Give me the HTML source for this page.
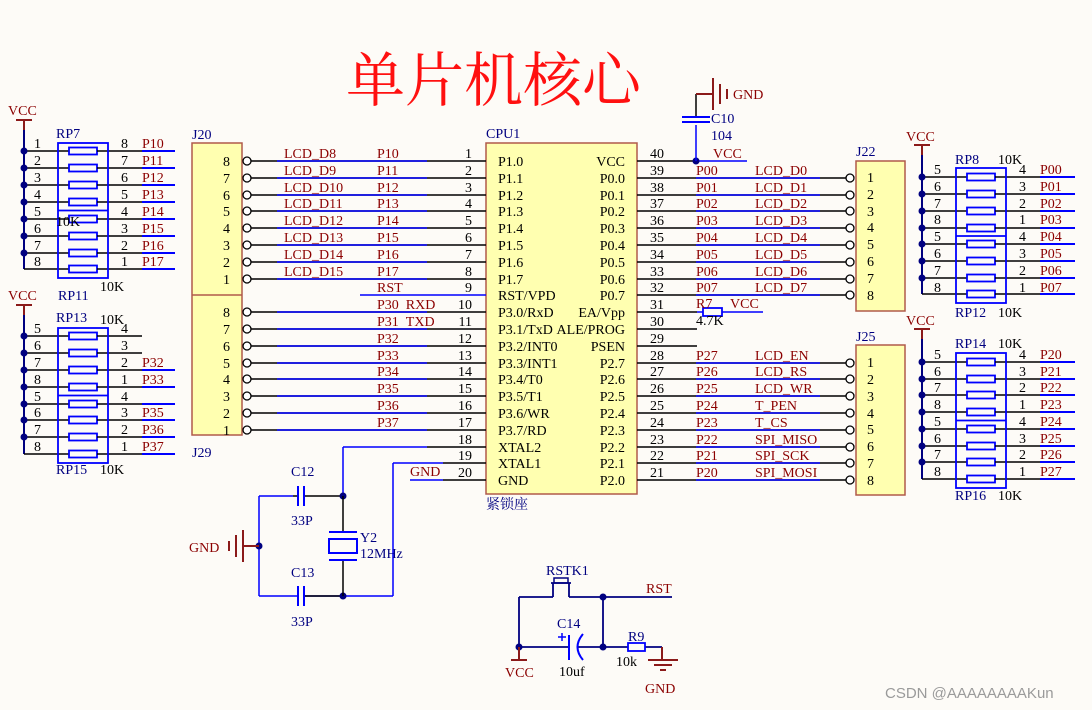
<!DOCTYPE html>
<html><head><meta charset="utf-8"><style>
html,body{margin:0;padding:0;background:#fdfbf7;}
svg{display:block;}
text{font-family:"Liberation Serif","Noto Serif CJK SC",serif;font-size:14px;}
.r{fill:#8b0000;}
.b{fill:#000080;}
.k{fill:#000;}
.e{text-anchor:end;}
</style></head><body>
<svg id="s" width="1092" height="710" viewBox="0 0 1092 710" xmlns="http://www.w3.org/2000/svg">
<rect width="1092" height="710" fill="#fdfbf7"/>
<g id="shapes"></g>
<text x="346" y="101" style="font-family:'Noto Serif CJK SC','Liberation Serif',serif;font-size:59px;fill:#ff1010">单片机核心</text>

<!-- left block 1 -->
<text x="8" y="115" class="r">VCC</text>
<text x="56" y="138" class="b">RP7</text>
<text x="56" y="226" class="k">10K</text>
<text x="100" y="291" class="k">10K</text>
<text x="34" y="148" class="k">1</text><text x="34" y="165" class="k">2</text><text x="34" y="182" class="k">3</text><text x="34" y="199" class="k">4</text><text x="34" y="216" class="k">5</text><text x="34" y="233" class="k">6</text><text x="34" y="250" class="k">7</text><text x="34" y="266" class="k">8</text>
<text x="121" y="148" class="k">8</text><text x="121" y="165" class="k">7</text><text x="121" y="182" class="k">6</text><text x="121" y="199" class="k">5</text><text x="121" y="216" class="k">4</text><text x="121" y="233" class="k">3</text><text x="121" y="250" class="k">2</text><text x="121" y="266" class="k">1</text>
<text x="142" y="148" class="r">P10</text><text x="142" y="165" class="r">P11</text><text x="142" y="182" class="r">P12</text><text x="142" y="199" class="r">P13</text><text x="142" y="216" class="r">P14</text><text x="142" y="233" class="r">P15</text><text x="142" y="250" class="r">P16</text><text x="142" y="266" class="r">P17</text>

<!-- left block 2 -->
<text x="8" y="300" class="r">VCC</text>
<text x="58" y="300" class="b">RP11</text>
<text x="56" y="322" class="b">RP13</text>
<text x="100" y="324" class="k">10K</text>
<text x="56" y="474" class="b">RP15</text>
<text x="100" y="474" class="k">10K</text>
<text x="34" y="333" class="k">5</text><text x="34" y="350" class="k">6</text><text x="34" y="367" class="k">7</text><text x="34" y="384" class="k">8</text><text x="34" y="401" class="k">5</text><text x="34" y="417" class="k">6</text><text x="34" y="434" class="k">7</text><text x="34" y="451" class="k">8</text>
<text x="121" y="333" class="k">4</text><text x="121" y="350" class="k">3</text><text x="121" y="367" class="k">2</text><text x="121" y="384" class="k">1</text><text x="121" y="401" class="k">4</text><text x="121" y="417" class="k">3</text><text x="121" y="434" class="k">2</text><text x="121" y="451" class="k">1</text>
<text x="142" y="367" class="r">P32</text><text x="142" y="384" class="r">P33</text><text x="142" y="417" class="r">P35</text><text x="142" y="434" class="r">P36</text><text x="142" y="451" class="r">P37</text>

<!-- J20 / J29 -->
<text x="192" y="139" class="b">J20</text>
<text x="192" y="457" class="b">J29</text>
<text x="230" y="166" class="k e">8</text><text x="230" y="183" class="k e">7</text><text x="230" y="200" class="k e">6</text><text x="230" y="216" class="k e">5</text><text x="230" y="233" class="k e">4</text><text x="230" y="250" class="k e">3</text><text x="230" y="267" class="k e">2</text><text x="230" y="284" class="k e">1</text>
<text x="230" y="317" class="k e">8</text><text x="230" y="334" class="k e">7</text><text x="230" y="351" class="k e">6</text><text x="230" y="368" class="k e">5</text><text x="230" y="384" class="k e">4</text><text x="230" y="401" class="k e">3</text><text x="230" y="418" class="k e">2</text><text x="230" y="435" class="k e">1</text>

<text x="284" y="158" class="r">LCD_D8</text><text x="284" y="175" class="r">LCD_D9</text><text x="284" y="192" class="r">LCD_D10</text><text x="284" y="208" class="r">LCD_D11</text><text x="284" y="225" class="r">LCD_D12</text><text x="284" y="242" class="r">LCD_D13</text><text x="284" y="259" class="r">LCD_D14</text><text x="284" y="276" class="r">LCD_D15</text>
<text x="377" y="158" class="r">P10</text><text x="377" y="175" class="r">P11</text><text x="377" y="192" class="r">P12</text><text x="377" y="208" class="r">P13</text><text x="377" y="225" class="r">P14</text><text x="377" y="242" class="r">P15</text><text x="377" y="259" class="r">P16</text><text x="377" y="276" class="r">P17</text>
<text x="377" y="292" class="r">RST</text>
<text x="377" y="309" class="r">P30&#160;&#160;RXD</text><text x="377" y="326" class="r">P31&#160;&#160;TXD</text>
<text x="377" y="343" class="r">P32</text><text x="377" y="360" class="r">P33</text><text x="377" y="376" class="r">P34</text><text x="377" y="393" class="r">P35</text><text x="377" y="410" class="r">P36</text><text x="377" y="427" class="r">P37</text>
<text x="410" y="476" class="r">GND</text>
<text x="472" y="158" class="k e">1</text><text x="472" y="175" class="k e">2</text><text x="472" y="192" class="k e">3</text><text x="472" y="208" class="k e">4</text><text x="472" y="225" class="k e">5</text><text x="472" y="242" class="k e">6</text><text x="472" y="259" class="k e">7</text><text x="472" y="276" class="k e">8</text><text x="472" y="292" class="k e">9</text><text x="472" y="309" class="k e">10</text><text x="472" y="326" class="k e">11</text><text x="472" y="343" class="k e">12</text><text x="472" y="360" class="k e">13</text><text x="472" y="376" class="k e">14</text><text x="472" y="393" class="k e">15</text><text x="472" y="410" class="k e">16</text><text x="472" y="427" class="k e">17</text><text x="472" y="444" class="k e">18</text><text x="472" y="460" class="k e">19</text><text x="472" y="477" class="k e">20</text>

<!-- CPU -->
<text x="486" y="138" class="b">CPU1</text>
<text x="498" y="166" class="k">P1.0</text><text x="498" y="183" class="k">P1.1</text><text x="498" y="200" class="k">P1.2</text><text x="498" y="216" class="k">P1.3</text><text x="498" y="233" class="k">P1.4</text><text x="498" y="250" class="k">P1.5</text><text x="498" y="267" class="k">P1.6</text><text x="498" y="284" class="k">P1.7</text><text x="498" y="300" class="k">RST/VPD</text><text x="498" y="317" class="k">P3.0/RxD</text><text x="498" y="334" class="k">P3.1/TxD</text><text x="498" y="351" class="k">P3.2/INT0</text><text x="498" y="368" class="k">P3.3/INT1</text><text x="498" y="384" class="k">P3.4/T0</text><text x="498" y="401" class="k">P3.5/T1</text><text x="498" y="418" class="k">P3.6/WR</text><text x="498" y="435" class="k">P3.7/RD</text><text x="498" y="452" class="k">XTAL2</text><text x="498" y="468" class="k">XTAL1</text><text x="498" y="485" class="k">GND</text>
<text x="625" y="166" class="k e">VCC</text><text x="625" y="183" class="k e">P0.0</text><text x="625" y="200" class="k e">P0.1</text><text x="625" y="216" class="k e">P0.2</text><text x="625" y="233" class="k e">P0.3</text><text x="625" y="250" class="k e">P0.4</text><text x="625" y="267" class="k e">P0.5</text><text x="625" y="284" class="k e">P0.6</text><text x="625" y="300" class="k e">P0.7</text><text x="625" y="317" class="k e">EA/Vpp</text><text x="625" y="334" class="k e">ALE/PROG</text><text x="625" y="351" class="k e">PSEN</text><text x="625" y="368" class="k e">P2.7</text><text x="625" y="384" class="k e">P2.6</text><text x="625" y="401" class="k e">P2.5</text><text x="625" y="418" class="k e">P2.4</text><text x="625" y="435" class="k e">P2.3</text><text x="625" y="452" class="k e">P2.2</text><text x="625" y="468" class="k e">P2.1</text><text x="625" y="485" class="k e">P2.0</text>
<text x="486" y="509" class="b">紧锁座</text>

<!-- right pin numbers -->
<text x="650" y="158" class="k">40</text><text x="650" y="175" class="k">39</text><text x="650" y="192" class="k">38</text><text x="650" y="208" class="k">37</text><text x="650" y="225" class="k">36</text><text x="650" y="242" class="k">35</text><text x="650" y="259" class="k">34</text><text x="650" y="276" class="k">33</text><text x="650" y="292" class="k">32</text><text x="650" y="309" class="k">31</text><text x="650" y="326" class="k">30</text><text x="650" y="343" class="k">29</text><text x="650" y="360" class="k">28</text><text x="650" y="376" class="k">27</text><text x="650" y="393" class="k">26</text><text x="650" y="410" class="k">25</text><text x="650" y="427" class="k">24</text><text x="650" y="444" class="k">23</text><text x="650" y="460" class="k">22</text><text x="650" y="477" class="k">21</text>
<text x="713" y="158" class="r">VCC</text>
<text x="696" y="175" class="r">P00</text><text x="696" y="192" class="r">P01</text><text x="696" y="208" class="r">P02</text><text x="696" y="225" class="r">P03</text><text x="696" y="242" class="r">P04</text><text x="696" y="259" class="r">P05</text><text x="696" y="276" class="r">P06</text><text x="696" y="292" class="r">P07</text>
<text x="755" y="175" class="r">LCD_D0</text><text x="755" y="192" class="r">LCD_D1</text><text x="755" y="208" class="r">LCD_D2</text><text x="755" y="225" class="r">LCD_D3</text><text x="755" y="242" class="r">LCD_D4</text><text x="755" y="259" class="r">LCD_D5</text><text x="755" y="276" class="r">LCD_D6</text><text x="755" y="292" class="r">LCD_D7</text>
<text x="696" y="308" class="r">R7</text><text x="730" y="308" class="r">VCC</text><text x="696" y="325" class="k">4.7K</text>
<text x="696" y="360" class="r">P27</text><text x="696" y="376" class="r">P26</text><text x="696" y="393" class="r">P25</text><text x="696" y="410" class="r">P24</text><text x="696" y="427" class="r">P23</text><text x="696" y="444" class="r">P22</text><text x="696" y="460" class="r">P21</text><text x="696" y="477" class="r">P20</text>
<text x="755" y="360" class="r">LCD_EN</text><text x="755" y="376" class="r">LCD_RS</text><text x="755" y="393" class="r">LCD_WR</text><text x="755" y="410" class="r">T_PEN</text><text x="755" y="427" class="r">T_CS</text><text x="755" y="444" class="r">SPI_MISO</text><text x="755" y="460" class="r">SPI_SCK</text><text x="755" y="477" class="r">SPI_MOSI</text>
<text x="733" y="99" class="r">GND</text>
<text x="711" y="123" class="b">C10</text><text x="711" y="140" class="b">104</text>

<!-- J22 / J25 -->
<text x="856" y="156" class="b">J22</text>
<text x="856" y="341" class="b">J25</text>
<text x="867" y="182" class="k">1</text><text x="867" y="199" class="k">2</text><text x="867" y="216" class="k">3</text><text x="867" y="232" class="k">4</text><text x="867" y="249" class="k">5</text><text x="867" y="266" class="k">6</text><text x="867" y="283" class="k">7</text><text x="867" y="300" class="k">8</text>
<text x="867" y="367" class="k">1</text><text x="867" y="384" class="k">2</text><text x="867" y="401" class="k">3</text><text x="867" y="418" class="k">4</text><text x="867" y="434" class="k">5</text><text x="867" y="451" class="k">6</text><text x="867" y="468" class="k">7</text><text x="867" y="485" class="k">8</text>

<!-- right RP blocks -->
<text x="906" y="141" class="r">VCC</text>
<text x="955" y="164" class="b">RP8</text><text x="998" y="164" class="k">10K</text>
<text x="955" y="317" class="b">RP12</text><text x="998" y="317" class="k">10K</text>
<text x="934" y="174" class="k">5</text><text x="934" y="191" class="k">6</text><text x="934" y="208" class="k">7</text><text x="934" y="224" class="k">8</text><text x="934" y="241" class="k">5</text><text x="934" y="258" class="k">6</text><text x="934" y="275" class="k">7</text><text x="934" y="292" class="k">8</text>
<text x="1019" y="174" class="k">4</text><text x="1019" y="191" class="k">3</text><text x="1019" y="208" class="k">2</text><text x="1019" y="224" class="k">1</text><text x="1019" y="241" class="k">4</text><text x="1019" y="258" class="k">3</text><text x="1019" y="275" class="k">2</text><text x="1019" y="292" class="k">1</text>
<text x="1040" y="174" class="r">P00</text><text x="1040" y="191" class="r">P01</text><text x="1040" y="208" class="r">P02</text><text x="1040" y="224" class="r">P03</text><text x="1040" y="241" class="r">P04</text><text x="1040" y="258" class="r">P05</text><text x="1040" y="275" class="r">P06</text><text x="1040" y="292" class="r">P07</text>
<text x="906" y="325" class="r">VCC</text>
<text x="955" y="348" class="b">RP14</text><text x="998" y="348" class="k">10K</text>
<text x="955" y="500" class="b">RP16</text><text x="998" y="500" class="k">10K</text>
<text x="934" y="359" class="k">5</text><text x="934" y="376" class="k">6</text><text x="934" y="392" class="k">7</text><text x="934" y="409" class="k">8</text><text x="934" y="426" class="k">5</text><text x="934" y="443" class="k">6</text><text x="934" y="459" class="k">7</text><text x="934" y="476" class="k">8</text>
<text x="1019" y="359" class="k">4</text><text x="1019" y="376" class="k">3</text><text x="1019" y="392" class="k">2</text><text x="1019" y="409" class="k">1</text><text x="1019" y="426" class="k">4</text><text x="1019" y="443" class="k">3</text><text x="1019" y="459" class="k">2</text><text x="1019" y="476" class="k">1</text>
<text x="1040" y="359" class="r">P20</text><text x="1040" y="376" class="r">P21</text><text x="1040" y="392" class="r">P22</text><text x="1040" y="409" class="r">P23</text><text x="1040" y="426" class="r">P24</text><text x="1040" y="443" class="r">P25</text><text x="1040" y="459" class="r">P26</text><text x="1040" y="476" class="r">P27</text>

<!-- crystal -->
<text x="291" y="476" class="b">C12</text><text x="291" y="525" class="b">33P</text>
<text x="291" y="577" class="b">C13</text><text x="291" y="626" class="b">33P</text>
<text x="189" y="552" class="r">GND</text>
<text x="360" y="542" class="b">Y2</text><text x="360" y="558" class="b">12MHz</text>

<!-- reset -->
<text x="546" y="575" class="b">RSTK1</text>
<text x="646" y="593" class="r">RST</text>
<text x="557" y="628" class="b">C14</text>
<text x="559" y="676" class="k">10uf</text>
<text x="628" y="641" class="b">R9</text>
<text x="616" y="666" class="k">10k</text>
<text x="505" y="677" class="r">VCC</text>
<text x="645" y="693" class="r">GND</text>

<text x="885" y="698" style="font-family:'Liberation Sans',sans-serif;font-size:15px;fill:#9a9a9a">CSDN @AAAAAAAAKun</text>
</svg>
<script>
(function(){
var g=document.getElementById('shapes'),NS='http://www.w3.org/2000/svg';
function E(t,a){var e=document.createElementNS(NS,t);for(var k in a)e.setAttribute(k,a[k]);g.appendChild(e);return e;}
function L(x1,y1,x2,y2,c,w){E('line',{x1:x1,y1:y1,x2:x2,y2:y2,stroke:c||'#000','stroke-width':w||1.5});}
function D(x,y){E('circle',{cx:x,cy:y,r:3.5,fill:'#000080'});}
function O(x,y){E('circle',{cx:x,cy:y,r:4,fill:'#fff',stroke:'#000','stroke-width':1.3});}
function R(x,y,w,h){E('rect',{x:x,y:y,width:w,height:h,fill:'#fdfbf7',stroke:'#0000ff','stroke-width':1.8});}
var BLUE='#0000ff',NAVY='#000080',DR='#8b1a1a',BOX='#ffffb0',BR='#b05a4a';
function vcc(x,y){L(x-8,y,x+8,y,DR,2);L(x,y,x,y+10,DR,2);}
function leftBlock(rows,vy,blues){
 vcc(24,vy); L(24,vy+10,24,rows[7],NAVY,2);
 for(var i=0;i<8;i++){var y=rows[i];L(24,y,69,y,'#000');R(69,y-3.5,28,7);L(97,y,142,y,'#000');if(blues[i])L(142,y,175,y,BLUE,2);if(i<7)D(24,y);}
 E('rect',{x:58,y:rows[0]-8,width:50,height:rows[7]-rows[0]+17,fill:'none',stroke:BLUE,'stroke-width':1.8});
 L(58,(rows[3]+rows[4])/2,108,(rows[3]+rows[4])/2,BLUE,1.8);
}
leftBlock([151,168,185,202,219,236,253,269],120,[1,1,1,1,1,1,1,1]);
leftBlock([336,353,370,387,404,420,437,454],305,[0,0,1,1,1,1,1,1]);
E('rect',{x:192,y:143,width:50,height:292,fill:BOX,stroke:BR,'stroke-width':1.5});
L(192,295,242,295,BR,1.5);
var LR=[161,178,195,211,228,245,262,279,295,312,329,346,363,379,396,413,430,447,463,480];
E('rect',{x:486,y:143,width:151,height:351,fill:BOX,stroke:BR,'stroke-width':1.5});
for(var i=0;i<20;i++){var y=LR[i];
 if(i<8||(i>=9&&i<17)){L(251,y,486,y,'#000');L(277,y,427,y,BLUE,1.5);O(247,y);}
 L(637,y,(i>=9&&i<=11)?697:(i==0?696:846),y,'#000');
}
L(360,295,486,295,BLUE,1.5);
L(343,447,343,496,BLUE,1.5);L(343,447,427,447,BLUE,1.5);L(427,447,486,447,'#000');
L(393,463,393,596,BLUE,1.5);L(393,463,443,463,BLUE,1.5);L(443,463,486,463,'#000');
L(410,480,443,480,BLUE,1.5);L(443,480,486,480,'#000');
L(696,161,747,161,BLUE,1.5);D(696,161);
L(696,161,696,125,BLUE,1.5);L(696,117,696,94,'#000');
L(682,117,710,117,BLUE,2);L(682,122,710,122,BLUE,2);
L(696,94,713,94,DR,2);L(713,78,713,110,DR,2);L(720,84,720,104,DR,2);L(727,89,727,99,DR,2);
L(697,312,763,312,BLUE,1.5);R(703,308,19,8);
var RR=[178,195,211,228,245,262,279,295];
var RR2=[363,379,396,413,430,447,463,480];
[RR,RR2].forEach(function(rs){rs.forEach(function(y){L(696,y,820,y,BLUE,1.5);O(850,y);});});
E('rect',{x:856,y:161,width:49,height:150,fill:BOX,stroke:BR,'stroke-width':1.5});
E('rect',{x:856,y:345,width:49,height:150,fill:BOX,stroke:BR,'stroke-width':1.5});
function rightBlock(rows,vy){
 vcc(922,vy);L(922,vy+10,922,rows[7],NAVY,2);
 for(var i=0;i<8;i++){var y=rows[i];L(922,y,967,y,'#000');R(967,y-3.5,28,7);L(995,y,1040,y,'#000');L(1040,y,1075,y,BLUE,2);if(i<7)D(922,y);}
 E('rect',{x:956,y:rows[0]-9,width:50,height:rows[7]-rows[0]+18,fill:'none',stroke:BLUE,'stroke-width':1.8});
 L(956,(rows[3]+rows[4])/2,1006,(rows[3]+rows[4])/2,BLUE,1.8);
}
rightBlock([177,194,211,228,244,261,278,294],145);
rightBlock([362,379,395,412,429,446,462,479],329);
L(259,496,293,496,BLUE,1.5);L(293,496,298,496,'#000');L(304,496,343,496,'#000');
L(259,596,298,596,BLUE,1.5);L(304,596,393,596,BLUE,1.5);L(304,596,343,596,'#000');
L(259,496,259,596,BLUE,1.5);
L(298,486,298,506,BLUE,2);L(304,486,304,506,BLUE,2);
L(298,586,298,606,BLUE,2);L(304,586,304,606,BLUE,2);
D(343,496);D(343,596);D(259,546);
L(243,546,259,546,DR,2);L(243,530,243,562,DR,2);L(236,535,236,557,DR,2);L(229,541,229,551,DR,2);
L(343,496,343,532,'#000');L(343,560,343,596,'#000');
L(329,532,357,532,BLUE,2);L(329,560,357,560,BLUE,2);
E('rect',{x:329,y:539,width:28,height:14,fill:'none',stroke:BLUE,'stroke-width':2});
L(519,597,553,597,NAVY,1.8);L(569,597,672,597,NAVY,1.8);
L(553,583,553,597,NAVY,1.8);L(569,583,569,597,NAVY,1.8);
L(551,583,571,583,NAVY,1.8);E('rect',{x:554,y:578,width:14,height:5,fill:'none',stroke:NAVY,'stroke-width':1.5});
L(519,597,519,647,NAVY,1.8);L(603,597,603,647,NAVY,1.8);
L(519,647,569,647,NAVY,1.8);L(578,647,662,647,NAVY,1.8);
D(603,597);D(519,647);D(603,647);
L(569,635,569,660,BLUE,2);
E('path',{d:'M583,634 Q572,647 583,660',fill:'none',stroke:BLUE,'stroke-width':2});
L(558,637,566,637,BLUE,1.5);L(562,633,562,641,BLUE,1.5);
R(628,643,17,8);
L(662,647,662,660,DR,2);L(648,660,678,660,DR,2);L(654,665,672,665,DR,2);L(660,670,666,670,DR,2);
L(519,647,519,660,DR,2);L(511,660,527,660,DR,2);
})();
</script>
</body></html>
